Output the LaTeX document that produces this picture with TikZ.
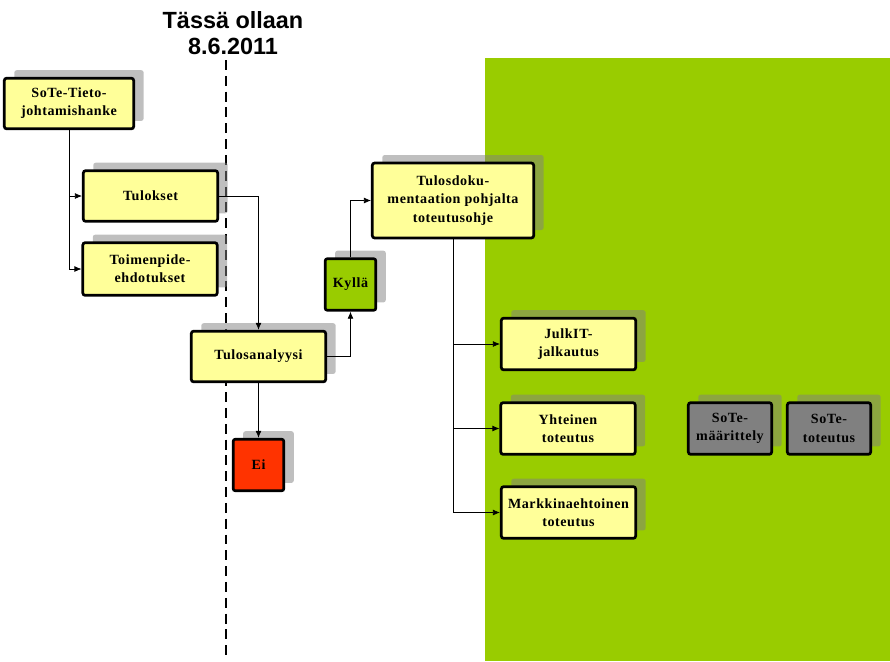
\documentclass[tikz,border=0pt]{standalone}
\usepackage{fontspec}
\newfontfamily\boxserif[LetterSpace=4]{Liberation Serif}
\newfontfamily\titlesans{Liberation Sans}
\usetikzlibrary{positioning, arrows.meta, shadows}

\definecolor{paleyellow}{HTML}{FFFF99}
\definecolor{leafgreen}{HTML}{99CC00}
\definecolor{alertred}{HTML}{FF3300}
\definecolor{midgray}{HTML}{808080}

\begin{document}
\begin{tikzpicture}[
  x=0.03cm, y=-0.03cm,
  box/.style={rectangle, rounded corners=2pt, draw=black, line width=2.3pt, fill=paleyellow,
    align=center, inner sep=1pt, font=\boxserif\bfseries\fontsize{12}{15.5}\selectfont,
    drop shadow={shadow xshift=8.5pt, shadow yshift=6.8pt, fill=gray, opacity=0.5}},
  wide/.style={box, minimum width=4.03cm, minimum height=1.52cm},
  small/.style={box, minimum width=1.52cm, minimum height=1.55cm},
  yesbox/.style={small, fill=leafgreen},
  nobox/.style={small, fill=alertred},
  laterbox/.style={box, fill=midgray, minimum width=2.5cm, minimum height=1.55cm},
  arrow/.style={-{Latex[length=6pt,width=5pt]}, line width=0.6pt}
]
\useasboundingbox (0,0) rectangle (890,661);

% later phase area
\fill[leafgreen] (485,58) rectangle (890,661);

% today marker
\draw[line width=2.4pt, dash pattern=on 8.5pt off 5pt] (226,60) -- (226,661);
\node[font=\titlesans\bfseries\fontsize{20}{22.5}\selectfont, align=center] (now) at (233,33) {Tässä ollaan\\8.6.2011};

% boxes
\node[wide, minimum width=3.88cm] (hanke) at (69,103.5) {SoTe-Tieto-\\johtamishanke};
\node[wide] (tulokset) at (150.5,196) {Tulokset};
\node[wide, minimum height=1.58cm] (ehdotukset) at (150,269) {Toimenpide-\\ehdotukset};
\node[wide] (analyysi) at (258.5,356.5) {Tulosanalyysi};
\node[yesbox] (kylla) at (350.5,284.5) {Kyllä};
\node[nobox] (ei) at (258.5,465) {Ei};
\node[box, minimum width=4.84cm, minimum height=2.25cm] (ohje) at (453,200.5) {Tulosdoku-\\mentaation pohjalta\\toteutusohje};
\node[wide, minimum height=1.55cm] (julkit) at (568.5,344) {JulkIT-\\jalkautus};
\node[wide, minimum height=1.55cm] (yhteinen) at (568,428.5) {Yhteinen\\toteutus};
\node[wide, minimum height=1.55cm] (markkina) at (568.5,512.5) {Markkinaehtoinen\\toteutus};
\node[laterbox] (maarittely) at (730,428.5) {SoTe-\\määrittely};
\node[laterbox] (toteutus) at (829,428.5) {SoTe-\\toteutus};

% connectors
\draw[arrow] (hanke.south) |- (tulokset.west);
\draw[arrow] (hanke.south) |- (ehdotukset.west);
\draw[arrow] (tulokset.east) -| (analyysi.north);
\draw[arrow] (analyysi.east) -| (kylla.south);
\draw[arrow] (analyysi.south) -- (ei.north);
\draw[arrow] (kylla.north) |- (ohje.west);
\draw[arrow] (ohje.south) |- (julkit.west);
\draw[arrow] (ohje.south) |- (yhteinen.west);
\draw[arrow] (ohje.south) |- (markkina.west);

\end{tikzpicture}
\end{document}
